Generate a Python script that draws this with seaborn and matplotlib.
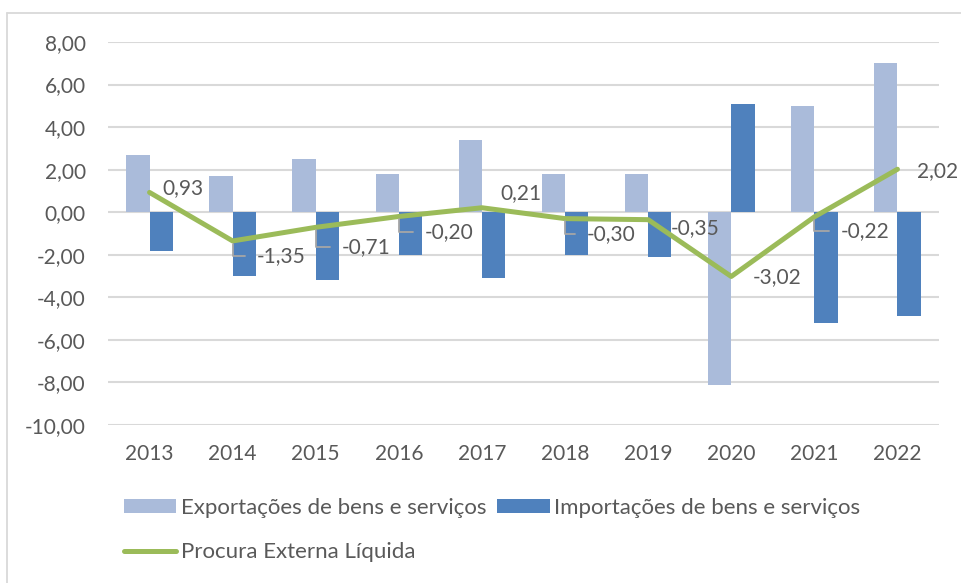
import numpy as np
import pandas as pd
import matplotlib
matplotlib.use("Agg")
import matplotlib.pyplot as plt
from matplotlib.patches import Patch
from matplotlib.lines import Line2D
import seaborn as sns

# Data
years = ['2013', '2014', '2015', '2016', '2017', '2018', '2019', '2020', '2021', '2022']
exportacoes = [2.7, 1.7, 2.5, 1.8, 3.4, 1.8, 1.8, -8.1, 5.0, 7.0]
importacoes = [-1.8, -3.0, -3.2, -2.0, -3.1, -2.0, -2.1, 5.1, -5.2, -4.9]
procura = [0.93, -1.35, -0.71, -0.20, 0.21, -0.30, -0.35, -3.02, -0.22, 2.02]

exp_name = 'Exportações de bens e serviços'
imp_name = 'Importações de bens e serviços'
net_name = 'Procura Externa Líquida'

c_exp = '#AABBDA'
c_imp = '#4F81BD'
c_net = '#9BBB59'
c_txt = '#595959'

# label offsets (pixels) for the line's data labels, and whether a leader is drawn
label_off = [(13, 4), (24, -15), (26, -20), (26, -16), (18, 15),
             (22, -15), (23, -8), (22, -1), (26, -14), (20, -2)]
leader = [False, True, True, True, False, True, False, False, True, False]

df = pd.DataFrame({
    'Ano': years * 2,
    'Valor': exportacoes + importacoes,
    'Serie': [exp_name] * len(years) + [imp_name] * len(years),
})

sns.set_style('white')
plt.rcParams['font.family'] = ['Lato', 'DejaVu Sans']

fig = plt.figure(figsize=(9.61, 5.83), dpi=100)
ax = fig.add_axes([108 / 961, 1 - 425 / 583, (939 - 108) / 961, (425 - 42) / 583])

sns.barplot(data=df, x='Ano', y='Valor', hue='Serie', order=years,
            hue_order=[exp_name, imp_name], palette=[c_exp, c_imp],
            saturation=1, width=0.56, edgecolor='none', legend=False, ax=ax, zorder=2)

sns.lineplot(x=np.arange(len(years)), y=procura, color=c_net, linewidth=3.6,
             ax=ax, zorder=3)

for i, v in enumerate(procura):
    txt = f'{v:.2f}'.replace('.', ',')
    dx, dy = label_off[i]
    kw = {}
    if leader[i]:
        kw['arrowprops'] = dict(arrowstyle='-', color='#A6A6A6', lw=1.3,
                                connectionstyle='angle,angleA=0,angleB=90,rad=0',
                                relpos=(0, 0.5), shrinkA=6, shrinkB=2)
    ax.annotate(txt, (i, v), xytext=(dx, dy), textcoords='offset pixels',
                ha='left', va='center', fontsize=15, color=c_txt, zorder=4, **kw)

ax.set_ylim(-10, 8)
ax.set_xlim(-0.5, len(years) - 0.5)
ax.set_yticks(np.arange(-10, 8.1, 2))
ax.set_yticklabels([f'{t:.2f}'.replace('.', ',') for t in np.arange(-10, 8.1, 2)])
ax.yaxis.grid(True, color='#D9D9D9', linewidth=1.5, zorder=0)
ax.set_axisbelow(True)
for s in ax.spines.values():
    s.set_visible(False)
ax.tick_params(axis='both', length=0, labelsize=15, labelcolor=c_txt)
ax.tick_params(axis='y', pad=16)
ax.tick_params(axis='x', pad=14)
ax.set_xlabel('')
ax.set_ylabel('')

handles = [Patch(facecolor=c_exp, edgecolor='none', label=exp_name),
           Line2D([0], [0], color=c_net, linewidth=3.6, solid_capstyle='round', label=net_name),
           Patch(facecolor=c_imp, edgecolor='none', label=imp_name)]
leg = fig.legend(handles=handles, ncol=2, loc='upper left',
                 bbox_to_anchor=(124 / 961, 1 - 498 / 583), frameon=False,
                 fontsize=16, labelcolor=c_txt, handlelength=2.35, handleheight=0.63,
                 handletextpad=0.2, columnspacing=0.5, labelspacing=1.1,
                 borderaxespad=0, borderpad=0)

# chart area border (top and left edges visible)
fig.add_artist(Line2D([7 / 961, 1], [1 - 13 / 583, 1 - 13 / 583], color='#D9D9D9', lw=1.3))
fig.add_artist(Line2D([7 / 961, 7 / 961], [0, 1 - 13 / 583], color='#D9D9D9', lw=1.3))

fig.savefig('out.png', dpi=100)
